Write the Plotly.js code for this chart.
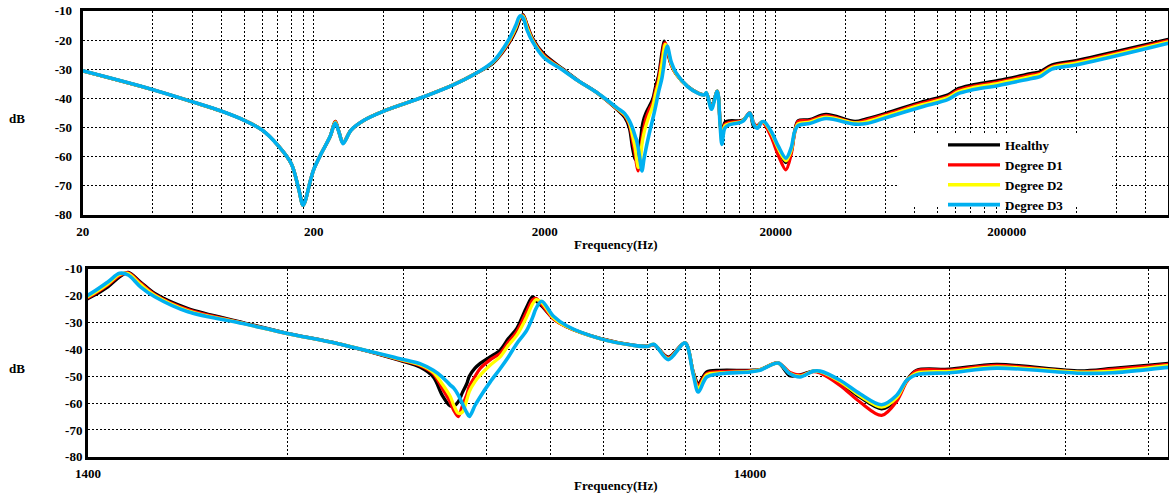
<!DOCTYPE html>
<html>
<head>
<meta charset="utf-8">
<script src="https://cdn.plot.ly/plotly-3.0.1.min.js"></script>
<style>
  html, body { margin: 0; padding: 0; background: #fff; }
  #chart { width: 1169px; height: 497px; }
</style>
</head>
<body>
<div id="chart"></div>
<script>
// ---------------- DATA ----------------
const freq = [
  20, 40, 60, 80, 100, 120, 140, 160, 172, 180,
  194, 200, 214, 236, 248, 258, 268, 290, 330, 400,
  600, 800, 1000, 1200, 1400, 1500, 1562, 1610, 1680, 1766,
  1982, 2400, 2800, 3341, 4144, 4442, 4653, 4800, 4932, 5000,
  5076, 5150, 5227, 5274, 5379, 5473, 5669, 5870, 6041, 6219,
  6439, 6575, 6650, 6783, 7062, 7399, 8307, 9328, 9800, 10025,
  10535, 11168, 11494, 11696, 12043, 12614, 14000, 14494, 15443, 16082,
  16658, 17449, 17863, 19148, 20521, 22131, 23320, 24150, 25004, 28000,
  33000, 44100, 49400, 60000, 85500, 111600, 123300, 140900, 184100, 256500,
  278900, 313200, 408400, 1000000
];

const healthy = [
  -30.6, -37.0, -41.3, -44.5, -47.6, -51.0, -56.2, -62.5, -71.0, -76.8,
  -68.0, -64.5, -59.5, -53.0, -48.0, -52.0, -55.4, -51.0, -47.6, -44.5,
  -39.5, -35.5, -31.6, -27.8, -21.1, -16.7, -13.0, -11.3, -14.9, -19.2,
  -24.8, -30.0, -34.0, -37.9, -44.1, -46.6, -50.3, -57.1, -61.0, -61.0,
  -59.5, -56.0, -52.8, -50.0, -47.0, -45.3, -42.8, -40.3, -36.0, -32.3,
  -24.2, -20.4, -21.8, -23.8, -28.5, -31.6, -35.9, -38.4, -38.8, -38.3,
  -42.9, -37.6, -48.5, -52.8, -48.4, -47.8, -47.8, -47.5, -45.1, -49.8,
  -49.5, -48.1, -48.5, -52.5, -57.8, -62.1, -58.5, -51.5, -47.8, -47.4,
  -45.6, -48.0, -47.1, -45.2, -41.3, -38.8, -36.7, -35.5, -33.9, -31.5,
  -30.9, -28.6, -26.9, -19.8
];

const degreeD1 = [
  -30.6, -37.0, -41.3, -44.5, -47.6, -51.0, -56.2, -62.5, -71.0, -76.8,
  -68.0, -64.5, -59.5, -53.0, -48.0, -52.0, -55.4, -51.0, -47.6, -44.5,
  -39.5, -35.5, -31.6, -27.6, -20.7, -16.0, -12.5, -11.5, -15.3, -19.6,
  -25.2, -30.2, -34.1, -37.9, -43.9, -46.0, -49.0, -54.5, -59.5, -62.8,
  -65.0, -61.0, -56.9, -53.8, -50.1, -47.2, -43.9, -41.5, -37.3, -33.5,
  -26.0, -21.5, -21.0, -23.3, -28.6, -31.6, -36.0, -38.5, -38.9, -38.2,
  -43.2, -37.6, -48.8, -53.5, -49.0, -48.3, -48.0, -47.6, -45.0, -48.6,
  -49.6, -48.3, -48.8, -53.4, -59.6, -64.6, -59.3, -52.0, -48.0, -47.7,
  -46.0, -48.4, -47.5, -45.6, -41.8, -39.3, -37.2, -36.0, -34.4, -32.0,
  -31.4, -29.1, -27.4, -20.2
];

const degreeD2 = [
  -30.6, -37.0, -41.3, -44.5, -47.6, -51.0, -56.2, -62.5, -71.0, -76.8,
  -68.0, -64.5, -59.5, -53.0, -48.2, -52.0, -55.5, -51.0, -47.6, -44.5,
  -39.5, -35.5, -31.6, -27.5, -20.3, -15.6, -12.1, -11.8, -15.8, -19.9,
  -25.6, -30.3, -34.1, -37.9, -43.7, -45.7, -48.5, -52.9, -57.4, -61.0,
  -63.8, -63.3, -58.8, -55.7, -52.0, -49.7, -45.9, -42.8, -38.5, -34.8,
  -27.9, -23.0, -21.5, -22.5, -28.2, -31.5, -36.0, -38.5, -38.9, -38.1,
  -43.5, -37.6, -49.0, -54.5, -49.5, -48.8, -48.2, -47.6, -45.1, -49.0,
  -50.0, -48.1, -48.3, -52.0, -57.3, -61.5, -58.0, -51.6, -48.8, -48.2,
  -46.5, -48.5, -48.1, -46.1, -42.3, -39.8, -37.8, -36.5, -34.9, -32.5,
  -31.9, -29.5, -27.8, -20.6
];

const degreeD3 = [
  -30.6, -37.0, -41.3, -44.5, -47.6, -51.0, -56.2, -62.5, -71.0, -76.8,
  -68.0, -64.5, -59.5, -53.0, -48.5, -52.0, -55.6, -51.0, -47.6, -44.5,
  -39.5, -35.5, -31.6, -27.3, -19.8, -14.9, -11.7, -12.3, -16.7, -20.4,
  -26.0, -30.4, -34.1, -37.9, -43.5, -45.3, -47.8, -50.3, -53.2, -54.5,
  -57.0, -60.3, -63.5, -65.0, -60.9, -57.8, -52.2, -47.2, -42.8, -37.9,
  -32.9, -28.0, -24.8, -22.1, -27.6, -31.2, -36.0, -38.5, -38.9, -38.1,
  -43.8, -37.6, -49.5, -55.9, -50.3, -49.1, -48.4, -47.8, -45.1, -49.1,
  -50.3, -48.1, -48.1, -51.5, -56.5, -60.6, -57.1, -51.5, -49.4, -48.7,
  -47.0, -48.9, -48.7, -46.7, -43.0, -40.4, -38.4, -37.2, -35.6, -33.2,
  -32.6, -30.0, -28.4, -21.1
];

const seriesNames = ['Healthy', 'Degree D1', 'Degree D2', 'Degree D3'];

const yTickValues = [-80, -70, -60, -50, -40, -30, -20, -10];
const yTickLabels = ['-80', '-70', '-60', '-50', '-40', '-30', '-20', '-10'];
const topXTickLabels = ['20', '200', '2000', '20000', '200000'];
const bottomXTickLabels = ['1400', '14000'];
const xAxisTitle = 'Frequency(Hz)';
const yAxisTitle = 'dB';

// ---------------- HELPERS ----------------
function logGrid(base, maxVal, labels) {
  const vals = [], texts = [];
  for (let n = 0; n < 8; n++) {
    for (let k = 1; k <= 9; k++) {
      const v = base * k * Math.pow(10, n);
      if (v > maxVal * 1.0001) continue;
      vals.push(v);
      texts.push(k === 1 && labels[n] !== undefined ? labels[n] : '');
    }
  }
  return {vals, texts};
}

const topGrid = logGrid(20, 1000000, topXTickLabels);
const botGrid = logGrid(1400, 60000, bottomXTickLabels);

const FONT = '"Liberation Serif", "Times New Roman", serif';
const tickFont = {family: FONT, size: 13, color: '#000', weight: 'bold'};

const series = [healthy, degreeD1, degreeD2, degreeD3];
const colors = ['#000000', '#ff0000', '#ffff00', '#00b0f0'];
const widths = [3.3, 3.3, 3.3, 3.6];

const traces = [];
series.forEach((s, i) => {
  traces.push({
    x: freq, y: s, name: seriesNames[i], type: 'scatter', mode: 'lines',
    xaxis: 'x', yaxis: 'y',
    line: {color: colors[i], width: widths[i], shape: 'spline', smoothing: 0.9},
    showlegend: true, hoverinfo: 'skip'
  });
});
series.forEach((s, i) => {
  traces.push({
    x: freq, y: s, name: seriesNames[i], type: 'scatter', mode: 'lines',
    xaxis: 'x2', yaxis: 'y2',
    line: {color: colors[i], width: widths[i], shape: 'spline', smoothing: 0.9},
    showlegend: false, hoverinfo: 'skip'
  });
});

const W = 1169, H = 497;
const axisCommon = {
  showline: true, linewidth: 3, linecolor: '#000', mirror: true,
  showgrid: true, gridcolor: '#000', gridwidth: 1, griddash: '2px,2px',
  zeroline: false, ticks: '', tickfont: tickFont, fixedrange: true
};

const layout = {
  width: W, height: H,
  margin: {l: 0, r: 0, t: 0, b: 0},
  paper_bgcolor: '#fff', plot_bgcolor: '#fff',
  showlegend: true,
  xaxis: Object.assign({}, axisCommon, {
    type: 'log', range: [Math.log10(20), 6],
    domain: [82.7 / W, 1168.2 / W], anchor: 'y',
    tickvals: topGrid.vals, ticktext: topGrid.texts, ticklabelstandoff: 3
  }),
  yaxis: Object.assign({}, axisCommon, {
    range: [-80, -10], domain: [1 - 214.6 / H, 1 - 10.9 / H], anchor: 'x',
    tickvals: yTickValues, ticktext: yTickLabels, ticklabelstandoff: 5
  }),
  xaxis2: Object.assign({}, axisCommon, {
    type: 'log', range: [Math.log10(1400), Math.log10(60000)],
    domain: [88 / W, 1168.4 / W], anchor: 'y2',
    tickvals: botGrid.vals, ticktext: botGrid.texts, ticklabelstandoff: 3
  }),
  yaxis2: Object.assign({}, axisCommon, {
    range: [-80, -10], domain: [1 - 456.8 / H, 1 - 268.8 / H], anchor: 'x2',
    tickvals: yTickValues, ticktext: yTickLabels, ticklabelstandoff: 0
  }),
  legend: {
    x: 943 / W, xanchor: 'left', y: 1 - 130 / H, yanchor: 'top',
    bgcolor: 'rgba(0,0,0,0)', borderwidth: 0, itemwidth: 52,
    font: {family: FONT, size: 13, color: '#000', weight: 'bold'},
    traceorder: 'normal'
  },
  shapes: [{
    type: 'rect', xref: 'paper', yref: 'paper', layer: 'above',
    x0: 898 / W, x1: 1112 / W, y0: 1 - 207 / H, y1: 1 - 135 / H,
    fillcolor: '#ffffff', line: {width: 0}
  }],
  annotations: [
    {text: '<b>' + yAxisTitle + '</b>', xref: 'paper', yref: 'paper', x: 17 / W, y: 1 - 118 / H,
     xanchor: 'center', yanchor: 'middle', showarrow: false, font: {family: FONT, size: 13, color: '#000'}},
    {text: '<b>' + yAxisTitle + '</b>', xref: 'paper', yref: 'paper', x: 17 / W, y: 1 - 368 / H,
     xanchor: 'center', yanchor: 'middle', showarrow: false, font: {family: FONT, size: 13, color: '#000'}},
    {text: '<b>' + xAxisTitle + '</b>', xref: 'paper', yref: 'paper', x: 615.5 / W, y: 1 - 244.5 / H,
     xanchor: 'center', yanchor: 'middle', showarrow: false, font: {family: FONT, size: 13, color: '#000'}},
    {text: '<b>' + xAxisTitle + '</b>', xref: 'paper', yref: 'paper', x: 615.5 / W, y: 1 - 485.5 / H,
     xanchor: 'center', yanchor: 'middle', showarrow: false, font: {family: FONT, size: 13, color: '#000'}}
  ]
};

Plotly.newPlot('chart', traces, layout, {displayModeBar: false, staticPlot: true});
</script>
</body>
</html>
